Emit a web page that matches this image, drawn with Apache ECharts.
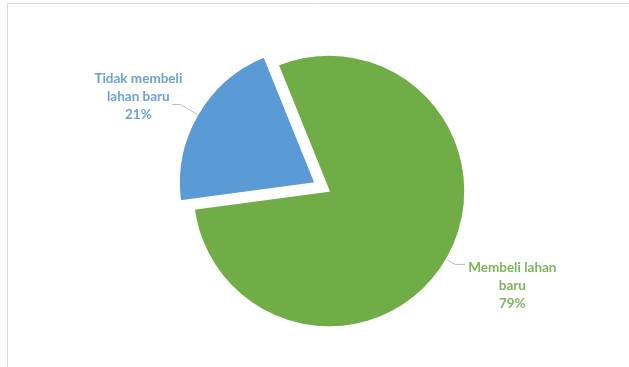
<!DOCTYPE html>
<html>
<head>
<meta charset="utf-8">
<script src="https://cdn.jsdelivr.net/npm/echarts@6/dist/echarts.min.js"></script>
<style>
  html, body { margin: 0; padding: 0; background: #fff; }
  #chart { width: 629px; height: 367px; }
</style>
</head>
<body>
<div id="chart"></div>
<script>
// Survey answers: did the household buy new land?
const categories = ['Membeli lahan baru', 'Tidak membeli lahan baru'];
const labelLines = [['Membeli lahan', 'baru'], ['Tidak membeli', 'lahan baru']];
const shares = [79, 21];
const sliceColors = ['#70ad47', '#5b9bd5'];
const labelColors = ['#7db45c', '#6aa2d8'];

const chart = echarts.init(document.getElementById('chart'), null, { renderer: 'canvas' });

const labelFor = (i) => ({
  color: labelColors[i],
  fontFamily: 'Lato, "Open Sans", sans-serif',
  fontWeight: 'bold',
  fontSize: 13.5,
  lineHeight: 18,
  formatter: () => labelLines[i].map(t => '{c|' + t + '}').join('\n') + '\n{c|' + shares[i] + '%}',
  rich: { c: { align: 'center', color: labelColors[i], fontFamily: 'Lato, "Open Sans", sans-serif', fontWeight: 'bold', fontSize: 13.5, lineHeight: 18 } }
});

const data = categories.map((name, i) => ({
  name,
  value: shares[i],
  selected: i === 1,
  itemStyle: { color: sliceColors[i] },
  label: Object.assign(labelFor(i), i === 0
    ? { padding: [42, 0, 0, 0], distanceToLabelLine: 3 }
    : { padding: [0, -12, 16, 0], distanceToLabelLine: 2 }),
  labelLine: i === 0 ? { length: 10, length2: 10 } : { length: 20, length2: 8 }
}));

chart.setOption({
  animation: false,
  backgroundColor: '#ffffff',
  graphic: [{
    type: 'rect',
    shape: { x: 7.5, y: 3.5, width: 800, height: 600 },
    style: { fill: 'none', stroke: '#d9d9d9', lineWidth: 1 },
    silent: true
  }],
  series: [{
    type: 'pie',
    center: [329, 191],
    radius: [0, 136],
    startAngle: 112,
    clockwise: true,
    selectedMode: 'single',
    selectedOffset: 16,
    avoidLabelOverlap: false,
    itemStyle: { borderColor: '#ffffff', borderWidth: 1.5 },
    label: { show: true, position: 'outside', alignTo: 'none' },
    labelLine: { show: true, lineStyle: { color: '#bfbfbf', width: 1 } },
    emphasis: { disabled: true },
    data
  }]
});
</script>
</body>
</html>
